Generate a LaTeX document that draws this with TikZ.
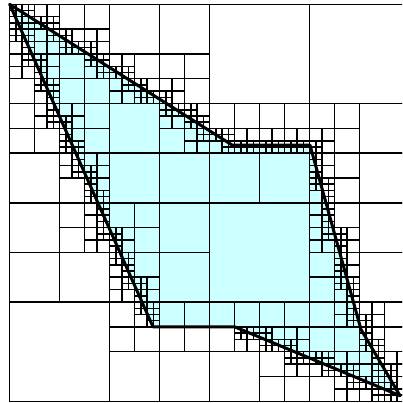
\documentclass[tikz,border=0pt]{standalone}
\definecolor{cellfill}{HTML}{CCFFFF}
% F(p) = (B-A) x (p-A)
\newcommand\QTF[6]{(((#5)-(#3))*((#2)-(#4))-((#6)-(#4))*((#1)-(#3)))}
% open box (x0,y0,s) vs segment (ax,ay)-(bx,by)
\newcommand\QTseg[7]{((max(#4,#6)>#1)&&(min(#4,#6)<#1+#3)&&(max(#5,#7)>#2)&&(min(#5,#7)<#2+#3)&&(min(\QTF{#1}{#2}{#4}{#5}{#6}{#7},\QTF{#1+#3}{#2}{#4}{#5}{#6}{#7},\QTF{#1}{#2+#3}{#4}{#5}{#6}{#7},\QTF{#1+#3}{#2+#3}{#4}{#5}{#6}{#7})<0)&&(max(\QTF{#1}{#2}{#4}{#5}{#6}{#7},\QTF{#1+#3}{#2}{#4}{#5}{#6}{#7},\QTF{#1}{#2+#3}{#4}{#5}{#6}{#7},\QTF{#1+#3}{#2+#3}{#4}{#5}{#6}{#7})>0))}
\newcommand\QThit[3]{(\QTseg{#1}{#2}{#3}{0}{0}{35.6}{22.7}||\QTseg{#1}{#2}{#3}{35.6}{22.7}{48.05}{22.7}||\QTseg{#1}{#2}{#3}{48.05}{22.7}{56.2}{52.4}||\QTseg{#1}{#2}{#3}{56.2}{52.4}{62.45}{63.1}||\QTseg{#1}{#2}{#3}{62.45}{63.1}{36}{52}||\QTseg{#1}{#2}{#3}{36}{52}{22.93}{52}||\QTseg{#1}{#2}{#3}{22.93}{52}{0}{0})}
\newcommand\QTcell[4]{\ifnum\fpeval{(#4<6)&&\QThit{#1}{#2}{#3}}=1 \expandafter\QTsplit\else\expandafter\QTleaf\fi{#1}{#2}{#3}{#4}}
\newcommand\QTsplit[4]{%
  \edef\QTnext{%
    \noexpand\QTcell{#1}{#2}{\fpeval{#3/2}}{\the\numexpr#4+1\relax}%
    \noexpand\QTcell{\fpeval{#1+#3/2}}{#2}{\fpeval{#3/2}}{\the\numexpr#4+1\relax}%
    \noexpand\QTcell{#1}{\fpeval{#2+#3/2}}{\fpeval{#3/2}}{\the\numexpr#4+1\relax}%
    \noexpand\QTcell{\fpeval{#1+#3/2}}{\fpeval{#2+#3/2}}{\fpeval{#3/2}}{\the\numexpr#4+1\relax}}%
  \QTnext}
\newcommand\QTleaf[4]{\draw[gridline] (#1,#2) rectangle ++(#3,#3);}
\tikzset{
  gridline/.style={draw=black, line width=1.5pt},
  outline/.style={draw=black, line width=3pt, line join=round},
  region/.style={fill=cellfill, draw=none}
}
\begin{document}
\begin{tikzpicture}[x=6.25pt,y=-6.203pt]
\useasboundingbox (-1.552,-0.693) rectangle (62.768,64.275);
\clip (-1.552,-0.693) rectangle (62.768,64.275);
\coordinate (v1) at (0,0);
\coordinate (v2) at (35.6,22.7);
\coordinate (v3) at (48.05,22.7);
\coordinate (v4) at (56.2,52.4);
\coordinate (v5) at (62.45,63.1);
\coordinate (v6) at (36,52);
\coordinate (v7) at (22.93,52);
\path[region] (v1) -- (v2) -- (v3) -- (v4) -- (v5) -- (v6) -- (v7) -- cycle;
\QTcell{0}{0}{64}{0}
\draw[outline] (v1) -- (v2) -- (v3) -- (v4) -- (v5) -- (v6) -- (v7) -- cycle;
\end{tikzpicture}
\end{document}
